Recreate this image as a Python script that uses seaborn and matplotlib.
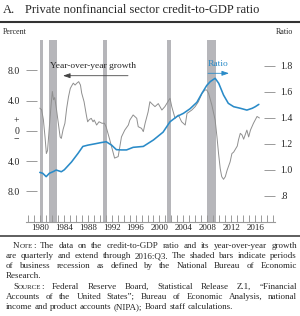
import numpy as np
import pandas as pd
import seaborn as sns
import matplotlib
matplotlib.use("Agg")
import matplotlib.pyplot as plt
from matplotlib.lines import Line2D

# ---------------- data ----------------
growth_years = [1980.0, 1980.3, 1980.6, 1980.9, 1981.1, 1981.3, 1981.6, 1981.9, 1982.1, 1982.3,
                1982.5, 1982.8, 1983.1, 1983.4, 1983.6, 1983.9, 1984.2, 1984.5, 1984.8, 1985.1,
                1985.3, 1985.6, 1985.9, 1986.2, 1986.5, 1986.8, 1987.0, 1987.4, 1987.8, 1988.0,
                1988.3, 1988.6, 1988.9, 1989.1, 1989.5, 1989.9, 1990.4, 1990.8, 1991.1, 1991.7,
                1992.5, 1993.1, 1993.65, 1994.2, 1994.8, 1995.05, 1995.6, 1996.2, 1996.45, 1997.0,
                1997.3, 1997.6, 1998.1, 1998.4, 1998.7, 1999.25, 1999.8, 2000.4, 2000.9, 2001.76,
                2002.05, 2002.6, 2003.15, 2003.7, 2004.3, 2004.6, 2005.4, 2005.96, 2006.5, 2007.1,
                2007.6, 2007.9, 2008.2, 2008.75, 2009.3, 2009.6, 2009.87, 2010.15, 2010.4, 2010.7,
                2011.0, 2011.3, 2011.8, 2012.1, 2012.4, 2013.0, 2013.2, 2013.5, 2013.8, 2014.06,
                2014.6, 2014.9, 2015.2, 2015.7, 2016.3, 2016.7]
growth_values = [3.0, 2.8, 1.5, -1.0, -3.0, -2.6, 0.5, 3.5, 5.2, 4.1,
                 4.4, 2.8, 1.0, -0.8, -1.0, 0.2, 1.0, 3.0, 4.5, 5.6,
                 5.9, 6.3, 6.05, 6.3, 6.5, 6.05, 5.0, 3.85, 2.0, 1.2,
                 1.5, 1.65, 1.2, 1.43, 0.77, 1.2, 1.0, 1.0, 0.5, -1.2,
                 -3.6, -3.4, -0.8, 0.1, 0.77, 1.43, 2.1, 1.66, 0.55, 0.33,
                 -0.1, 1.0, 2.5, 3.85, 3.6, 3.2, 3.6, 2.75, 3.2, 4.3,
                 3.2, 1.66, 2.1, 1.2, 0.77, 2.3, 2.75, 3.2, 3.85, 4.96,
                 5.4, 5.4, 4.96, 3.4, 1.43, -0.77, -3.0, -5.0, -6.05, -6.4,
                 -6.05, -5.2, -4.1, -3.0, -2.8, -2.0, -1.2, -0.33, -0.55, -1.1,
                 0.1, -0.8, 0.1, 1.0, 1.9, 1.7]

ratio_years = [1980.0, 1980.5, 1981.07, 1981.6, 1982.2, 1982.75, 1983.6, 1984.1, 1985.3, 1986.4,
               1987.2, 1988.05, 1989.2, 1990.3, 1991.1, 1992.0, 1992.8, 1993.65, 1994.5, 1995.6,
               1997.3, 1999.0, 2000.6, 2001.76, 2002.9, 2004.0, 2005.1, 2006.25, 2007.1, 2007.9,
               2008.5, 2009.3, 2009.9, 2010.7, 2011.5, 2012.4, 2013.5, 2014.6, 2015.5, 2016.0,
               2016.6]
ratio_values = [0.98, 0.973, 0.947, 0.973, 0.985, 0.998, 0.985, 1.0, 1.06, 1.127,
                1.18, 1.19, 1.20, 1.21, 1.216, 1.19, 1.155, 1.153, 1.153, 1.173,
                1.18, 1.23, 1.29, 1.37, 1.41, 1.435, 1.47, 1.52, 1.59, 1.65,
                1.68, 1.705, 1.666, 1.576, 1.512, 1.486, 1.474, 1.46, 1.474, 1.486,
                1.504]

recession_start = [1980.0, 1981.5, 1990.5, 2001.2, 2007.9]
recession_end = [1980.5, 1982.9, 1991.2, 2001.9, 2009.5]

left_ticks = [8, 4, 0, -4, -8]
left_labels = ["8.0", "4.0", "0", "4.0", "8.0"]
right_ticks = [0.8, 1.0, 1.2, 1.4, 1.6, 1.8]
right_labels = [".8", "1.0", "1.2", "1.4", "1.6", "1.8"]
year_labels = list(range(1980, 2017, 4))
minor_years = list(range(1978, 2020))

title_letter = "A."
title_text = "Private nonfinancial sector credit-to-GDP ratio"
left_unit = "Percent"
right_unit = "Ratio"
growth_label = "Year-over-year growth"
ratio_label = "Ratio"

note_lines = [
    "NOTE: The data on the credit-to-GDP ratio and its year-over-year growth",
    "are quarterly and extend through 2016:Q3. The shaded bars indicate periods",
    "of business recession as defined by the National Bureau of Economic",
    "Research.",
    "SOURCE: Federal Reserve Board, Statistical Release Z.1, \u201cFinancial",
    "Accounts of the United States\u201d; Bureau of Economic Analysis, national",
    "income and product accounts (NIPA); Board staff calculations.",
]

# ---------------- style ----------------
sns.set_theme(style="white")
SERIF = ["Liberation Serif", "DejaVu Serif"]
plt.rcParams["font.family"] = SERIF

W, H = 300, 316
fig = plt.figure(figsize=(W / 100, H / 100), dpi=100)


def fx(px):
    return px / W


def fy(py):
    return 1 - py / H


BLUE = "#2a8bc8"
GRAY_LINE = "#8f8f8f"
BAR = "#b6b6ba"
TICK = "#9a9a9a"

ax_left, ax_right, ax_top, ax_bot = 26, 275, 40, 221.7
ax = fig.add_axes([fx(ax_left), fy(ax_bot), (ax_right - ax_left) / W, (ax_bot - ax_top) / H])

for s, e in zip(recession_start, recession_end):
    ax.axvspan(s, e, color=BAR, lw=0, zorder=0)

gdf = pd.DataFrame({"year": growth_years, "growth": growth_values})
rdf = pd.DataFrame({"year": ratio_years, "ratio": ratio_values})

sns.lineplot(data=gdf, x="year", y="growth", ax=ax, color=GRAY_LINE, lw=0.7,
             sort=False, estimator=None, zorder=3)
ax2 = ax.twinx()
sns.lineplot(data=rdf, x="year", y="ratio", ax=ax2, color=BLUE, lw=1.15,
             sort=False, estimator=None, zorder=4)

ax.set_xlim(1977.7, 2019.3)
ax.set_ylim(-12, 12)
ax2.set_ylim(0.6, 2.0)
for a in (ax, ax2):
    a.set_xlabel("")
    a.set_ylabel("")
    for sp in ("top", "left", "right"):
        a.spines[sp].set_visible(False)
ax2.spines["bottom"].set_visible(False)
ax.spines["bottom"].set_color(TICK)
ax.spines["bottom"].set_linewidth(0.8)

ax.set_yticks(left_ticks)
ax.set_yticklabels(left_labels)
ax.tick_params(axis="y", direction="in", length=8, width=0.7, color=TICK, pad=4.5,
               labelsize=7, left=True, right=False)
ax2.set_yticks(right_ticks)
ax2.set_yticklabels(right_labels)
ax2.tick_params(axis="y", direction="in", length=8, width=0.7, color=TICK, pad=4,
                labelsize=7, right=True, left=False)

ax.set_xticks(year_labels)
ax.set_xticklabels([str(y) for y in year_labels])
ax.set_xticks(minor_years, minor=True)
ax.tick_params(axis="x", which="both", direction="in", length=5, width=0.7, color=TICK,
               pad=2, labelsize=6.5, bottom=True)
ax.grid(False)
ax2.grid(False)

# plus / minus around zero
fig.text(fx(16), fy(120.5), "+", ha="center", va="center", fontsize=7)
fig.text(fx(16), fy(139.5), "\u2212", ha="center", va="center", fontsize=7)

# annotations
fig.text(fx(49.5), fy(66), growth_label, ha="left", va="center", fontsize=6.8)
ax.annotate("", xy=(fx(63), fy(75.7)), xytext=(fx(128), fy(75.7)),
            xycoords=fig.transFigure, textcoords=fig.transFigure,
            arrowprops=dict(arrowstyle="-|>,head_length=0.35,head_width=0.12",
                            color="#444444", lw=0.6, shrinkA=0, shrinkB=0))
fig.text(fx(218.5), fy(64), ratio_label, ha="center", va="center", fontsize=6.8, color=BLUE)
ax.annotate("", xy=(fx(229), fy(73.3)), xytext=(fx(208), fy(73.3)),
            xycoords=fig.transFigure, textcoords=fig.transFigure,
            arrowprops=dict(arrowstyle="-|>,head_length=0.35,head_width=0.12",
                            color=BLUE, lw=0.6, shrinkA=0, shrinkB=0))

# units
fig.text(fx(2.7), fy(32.3), left_unit, ha="left", va="center", fontsize=5.8)
fig.text(fx(293.5), fy(32.3), right_unit, ha="right", va="center", fontsize=5.8)

# rules
fig.add_artist(Line2D([0, 1], [fy(21.7), fy(21.7)], lw=1.5, color="#333333"))
fig.add_artist(Line2D([0, 1], [fy(236), fy(236)], lw=1.1, color="#333333"))

renderer = fig.canvas.get_renderer()


def measure(s, size):
    t = fig.text(0, 0, s, fontsize=size)
    w = t.get_window_extent(renderer=renderer).width
    t.remove()
    return w


# title, fitted to the reference width
ts = 10 * 234 / measure(title_text, 10)
fig.text(fx(2.7), fy(12.7), title_letter, ha="left", va="baseline", fontsize=ts)
fig.text(fx(25), fy(12.7), title_text, ha="left", va="baseline", fontsize=ts)

# note text (justified, with small caps labels)
ns = 6 * 279 / measure(note_lines[1], 6)
SC = 0.78


def word_segments(word):
    if word in ("NOTE:", "SOURCE:"):
        return [(word[0], 1.0), (word[1:-1], SC), (":", 1.0)]
    return [(word, 1.0)]


space_w = measure("a a", ns) - measure("aa", ns)
centers = [246, 256, 266.2, 276.3, 286.6, 296.7, 306.7]
indent = {0: 13, 4: 13}
justify = [True, True, True, False, True, True, False]
for i, line in enumerate(note_lines):
    words = [word_segments(w) for w in line.split(" ")]
    seg_w = [[measure(t, ns * s) for t, s in w] for w in words]
    widths = [sum(sw) for sw in seg_w]
    x0 = indent.get(i, 6)
    x1 = 297
    if justify[i] and len(words) > 1:
        gap = (x1 - x0 - sum(widths)) / (len(words) - 1)
    else:
        gap = space_w
    x = x0
    base = centers[i] + 2.2
    for w, sw in zip(words, seg_w):
        xx = x
        for (t, s), ww in zip(w, sw):
            fig.text(fx(xx), fy(base), t, ha="left", va="baseline", fontsize=ns * s)
            xx += ww
        x += sum(sw) + gap

fig.savefig("out.png", dpi=100)
